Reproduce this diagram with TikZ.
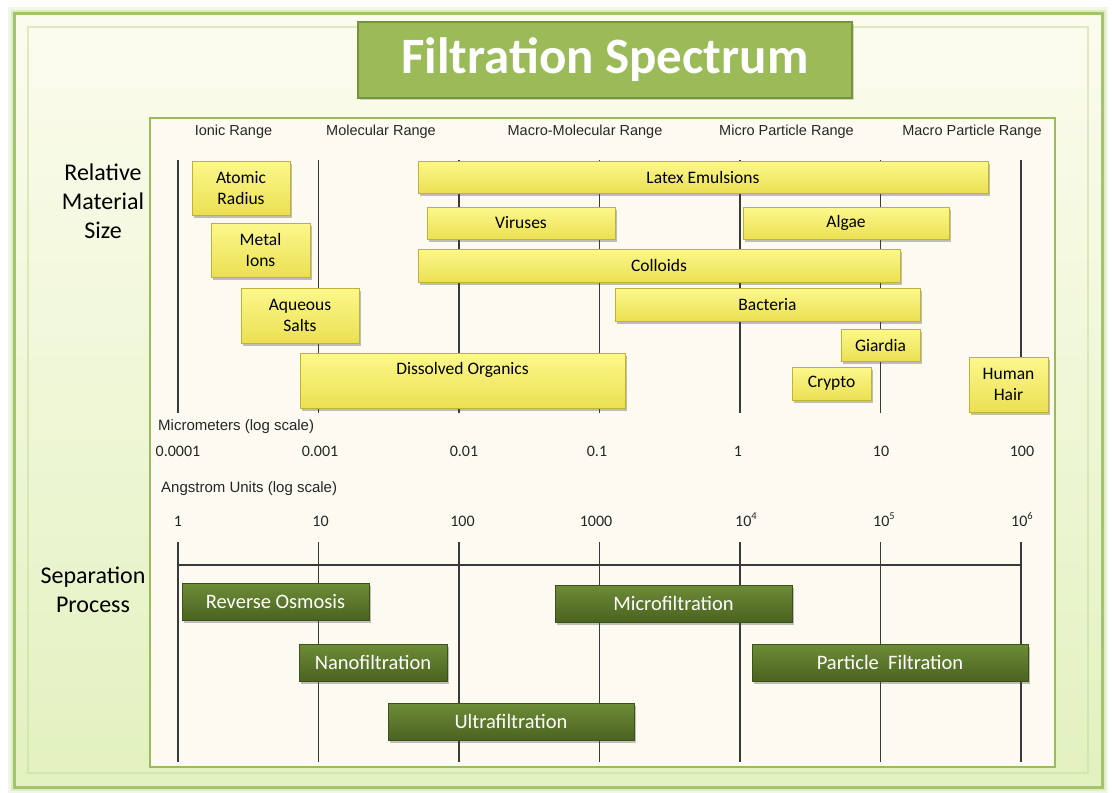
\documentclass[tikz,border=0pt]{standalone}
\usepackage{fontspec}
\setmainfont{Carlito}
\newfontfamily\arialf{Liberation Sans}
\usetikzlibrary{shadows}
\definecolor{titlegreen}{HTML}{9BBB59}
\definecolor{titleedge}{HTML}{76933C}
\definecolor{framegreen}{HTML}{A3C46A}
\definecolor{framelight}{HTML}{C9E0A0}
\definecolor{bgtop}{HTML}{FCFCEE}
\definecolor{bgbot}{HTML}{E2F1BF}
\definecolor{panelfill}{HTML}{FDFBF1}
\definecolor{yelA}{HTML}{FCF88C}
\definecolor{yelB}{HTML}{EBE053}
\definecolor{yelEdge}{HTML}{C2B232}
\definecolor{grnA}{HTML}{6C8C36}
\definecolor{grnB}{HTML}{4B6321}
\definecolor{grnEdge}{HTML}{3D5119}
\definecolor{gridc}{HTML}{3A3A3A}
\newcommand{\supnum}[1]{\raisebox{0.42em}{\fontsize{10.5}{11}\selectfont #1}}
\tikzset{
  ybox/.style={draw=yelEdge, line width=0.8pt, top color=yelA, bottom color=yelB,
    inner sep=0pt, align=center, text=black,
    font=\fontsize{17.5}{21.5}\selectfont,
    drop shadow={shadow xshift=2pt, shadow yshift=-2.5pt, opacity=0.35, fill=black!70}},
  gbox/.style={draw=grnEdge, line width=0.8pt, top color=grnA, bottom color=grnB,
    inner sep=0pt, align=center, text=white,
    font=\fontsize{20.5}{24}\selectfont,
    drop shadow={shadow xshift=2pt, shadow yshift=-2.5pt, opacity=0.35, fill=black!70}},
  hdr/.style={font=\arialf\fontsize{14.5}{17}\selectfont, inner sep=0pt, text=black!85},
  axl/.style={font=\arialf\fontsize{15}{17}\selectfont, inner sep=0pt, anchor=west, text=black!85},
  num/.style={font=\fontsize{16}{18}\selectfont, inner sep=0pt, text=black!85, anchor=base},
  side/.style={font=\fontsize{24}{29}\selectfont, inner sep=0pt, align=center, text=black},
  grid/.style={draw=gridc, line width=1.5pt},
}
\begin{document}
\begin{tikzpicture}[x=1pt,y=-1pt]
\useasboundingbox (0,0) rectangle (1112,793);
\fill[white] (0,0) rectangle (1112,793);
% glow
\draw[framelight, opacity=0.25, line width=12pt] (14,13) rectangle (1102,787);
\draw[framelight, opacity=0.45, line width=7pt] (14,13) rectangle (1102,787);
% outer frame
\shade[top color=bgtop, bottom color=bgbot] (14,13) rectangle (1102,787);
\draw[framegreen, line width=3pt] (14,13) rectangle (1102,787);
\draw[framelight, opacity=0.6, line width=1.2pt] (28,27) rectangle (1088,773);
% inner panel
\filldraw[fill=panelfill, draw=titlegreen, line width=2.5pt] (150,118) rectangle (1055,767);
% title
\node[draw=titleedge, line width=1.5pt, fill=titlegreen, minimum width=494pt, minimum height=76pt,
  inner sep=0pt, text=white, font=\bfseries\fontsize{51}{56}\selectfont,
  drop shadow={shadow xshift=2pt, shadow yshift=-2pt, opacity=0.3}] (title) at (605,60) {Filtration Spectrum};
% header labels
\node[hdr] (h1) at (233.5,132) {Ionic Range};
\node[hdr] (h2) at (381,132) {Molecular Range};
\node[hdr] (h3) at (585,132) {Macro-Molecular Range};
\node[hdr] (h4) at (786.5,132) {Micro Particle Range};
\node[hdr] (h5) at (972,132) {Macro Particle Range};
% side labels
\node[side] (rms) at (103,201) {Relative\\Material\\Size};
\node[side] (sp) at (93,589.5) {Separation\\Process};
% grid
\foreach \i/\gx in {0/178,1/318.5,2/459,3/599.5,4/740,5/880.5,6/1021}{
  \coordinate (ut\i) at (\gx,160);
  \coordinate (ub\i) at (\gx,413);
  \coordinate (lt\i) at (\gx,542);
  \coordinate (lb\i) at (\gx,762);
  \draw[grid] (ut\i) -- (ub\i);
  \draw[grid] (lt\i) -- (lb\i);
}
\coordinate (hl) at (178,565);
\coordinate (hr) at (1021,565);
\draw[grid] (hl) -- (hr);
% yellow boxes
\node[ybox, minimum width=98pt, minimum height=54pt] (atom) at (241,188) {Atomic\\Radius};
\node[ybox, minimum width=99pt, minimum height=54pt] (metal) at (260.5,250) {Metal\\Ions};
\node[ybox, minimum width=118pt, minimum height=55pt] (aq) at (300,315.5) {Aqueous\\Salts};
\node[ybox, minimum width=325pt, minimum height=55pt] (dorg) at (462.5,380.5) {};
\node[font=\fontsize{17.5}{21.5}\selectfont, inner sep=0pt] (dorgt) at (462.5,370) {Dissolved Organics};
\node[ybox, minimum width=570pt, minimum height=32pt] (latex) at (703,177) {Latex Emulsions};
\node[ybox, minimum width=188pt, minimum height=32pt] (virus) at (521,223) {Viruses};
\node[ybox, minimum width=206pt, minimum height=32pt] (algae) at (846,223) {Algae};
\node[ybox, minimum width=482pt, minimum height=33pt] (coll) at (659,265.5) {Colloids};
\node[ybox, minimum width=305pt, minimum height=33pt] (bact) at (767.5,304.5) {Bacteria};
\node[ybox, minimum width=79pt, minimum height=32pt] (giar) at (880.5,345) {Giardia};
\node[ybox, minimum width=79pt, minimum height=33pt] (crypto) at (831.5,383.5) {Crypto};
\node[ybox, minimum width=79pt, minimum height=55pt] (hair) at (1008.5,384.5) {Human\\Hair};
% axis labels
\node[axl] (mic) at (158,427) {Micrometers (log scale)};
\node[axl] (ang) at (161,489) {Angstrom Units (log scale)};
\node[num] (m0) at (178,456.5) {0.0001};
\node[num] (m1) at (320,456.5) {0.001};
\node[num] (m2) at (464,456.5) {0.01};
\node[num] (m3) at (597,456.5) {0.1};
\node[num] (m4) at (738,456.5) {1};
\node[num] (m5) at (881,456.5) {10};
\node[num] (m6) at (1022,456.5) {100};
\node[num] (a0) at (178,526.5) {1};
\node[num] (a1) at (320.5,526.5) {10};
\node[num] (a2) at (462.5,526.5) {100};
\node[num] (a3) at (596,526.5) {1000};
\node[num] (a4) at (746,526.5) {10\supnum{4}};
\node[num] (a5) at (884,526.5) {10\supnum{5}};
\node[num] (a6) at (1022,526.5) {10\supnum{6}};
% green boxes
\node[gbox, minimum width=187pt, minimum height=37pt] (ro) at (275.5,601.5) {Reverse Osmosis};
\node[gbox, minimum width=148pt, minimum height=37pt] (nf) at (373,662.5) {Nanofiltration};
\node[gbox, minimum width=246pt, minimum height=37pt] (uf) at (511,721.5) {Ultrafiltration};
\node[gbox, minimum width=237pt, minimum height=37pt] (mf) at (673.5,603.5) {Microfiltration};
\node[gbox, minimum width=276pt, minimum height=37pt] (pf) at (890,662.5) {Particle\ \ Filtration};
\end{tikzpicture}
\end{document}
